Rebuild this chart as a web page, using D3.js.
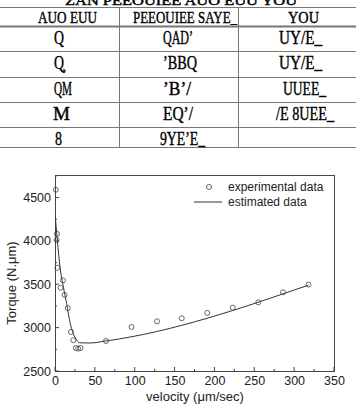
<!DOCTYPE html>
<html>
<head>
<meta charset="utf-8">
<script src="https://cdn.jsdelivr.net/npm/d3@7"></script>
<style>
  body { margin: 0; background: #fff; }
  svg { display: block; }
  .tick text { font-family: Arial, "Liberation Sans", sans-serif; }
</style>
</head>
<body>
<div id="chart"></div>
<script>
// table text (as rendered, symbol font glyphs)
const tableTitle = "ZAN PEEOUIEE AUO EUU YOU";
const tableHeader = ["AUO EUU", "PEEOUIEE SAYE_", "YOU"];
const tableCol1 = ["Q", "Q̧", "QM", "M", "8"];
const tableCol2 = ["QADʼ", "ʼBBQ", "ʼBʼ/", "EQʼ/", "9YEʼE_"];
const tableCol3 = ["UY/E_", "UY/E_", "UUEE_", "/E 8UEE_", ""];

// experimental data
const expVelocity = [1, 2.5, 2, 3, 10, 7, 12, 16, 20, 23, 26, 29, 32, 64, 96, 128, 159, 191, 223, 255, 286, 318];
const expTorque = [4590, 4080, 4010, 3690, 3545, 3460, 3377, 3225, 2950, 2855, 2765, 2758, 2765, 2846, 3008, 3073, 3108, 3170, 3230, 3292, 3408, 3496];

// estimated data
const estVelocity = [0.5, 1.3, 2.9, 6.3, 10.5, 14.6, 18.8, 23, 27.2, 31.4, 44, 63.6, 318];
const estTorque = [4260, 4180, 4007, 3700, 3469, 3277, 3060, 2931, 2854, 2825, 2823, 2846, 3490];

const xTicks = [0, 50, 100, 150, 200, 250, 300, 350];
const yTicks = [2500, 3000, 3500, 4000, 4500];

const W = 356, H = 410;
const svg = d3.select("#chart").append("svg").attr("width", W).attr("height", H);

// ---- table ----
const colX = [0, 119, 238, 356];
const rowY = [7, 26, 51, 77, 102, 127, 147];
const tbl = svg.append("g").attr("stroke", "#777").attr("stroke-width", 1);
rowY.forEach((yy, i) => {
  tbl.append("line").attr("x1", 0).attr("x2", W).attr("y1", yy + 0.5).attr("y2", yy + 0.5)
    .attr("stroke-width", i === 1 ? 2 : 1);
});
[colX[1], colX[2]].forEach(xx => {
  tbl.append("line").attr("x1", xx + 0.5).attr("x2", xx + 0.5).attr("y1", rowY[0]).attr("y2", rowY[6]);
});

function glyphText(str, x0, y0, len, size) {
  if (!str) return;
  svg.append("text")
    .attr("x", x0).attr("y", y0)
    .attr("font-family", "Liberation Serif, serif")
    .attr("font-size", size || 19)
    .attr("stroke", "#000").attr("stroke-width", 0.4)
    .attr("textLength", len)
    .attr("lengthAdjust", "spacingAndGlyphs")
    .text(str);
}
glyphText(tableTitle, 65, 5, 232, 12);
glyphText(tableHeader[0], 38, 23, 59, 17);
glyphText(tableHeader[1], 133, 23, 104, 17);
glyphText(tableHeader[2], 288, 23, 31, 17);
const c1x = [54, 54, 54, 53, 55], c1w = [10, 10, 18, 17, 7];
const c2x = [163, 163, 163, 163, 160], c2w = [30, 34, 28, 30, 45];
const c3x = [279, 279, 283, 276, 0], c3w = [43, 43, 43, 58, 0];
tableCol1.forEach((s, i) => {
  const base = rowY[i + 1] + 18;
  glyphText(s, c1x[i], base, c1w[i]);
  glyphText(tableCol2[i], c2x[i], base, c2w[i]);
  glyphText(tableCol3[i], c3x[i], base, c3w[i]);
});

// ---- plot ----
const pLeft = 55, pRight = 334, pTop = 175, pBottom = 371;
const x = d3.scaleLinear().domain([0, 350]).range([pLeft, pRight]);
const y = d3.scaleLinear().domain([2500, 4760]).range([pBottom, pTop]);

const xAxis = svg.append("g").attr("transform", `translate(0,${pBottom})`)
  .call(d3.axisBottom(x).tickValues(xTicks).tickFormat(d3.format("d")).tickSize(0).tickPadding(5));
const yAxis = svg.append("g").attr("transform", `translate(${pLeft},0)`)
  .call(d3.axisLeft(y).tickValues(yTicks).tickFormat(d3.format("d")).tickSize(0).tickPadding(4));
[xAxis, yAxis].forEach(a => {
  a.select(".domain").remove();
  a.selectAll("text").attr("font-size", 12.5).attr("fill", "#222");
});

// inward ticks
const tickG = svg.append("g").attr("stroke", "#444").attr("stroke-width", 1);
d3.range(0, 351, 25).forEach(v => {
  const len = v % 50 === 0 ? 4 : 2;
  tickG.append("line").attr("x1", x(v)).attr("x2", x(v)).attr("y1", pBottom).attr("y2", pBottom - len);
});
d3.range(2500, 4751, 250).forEach(v => {
  const len = v % 500 === 0 ? 4 : 2;
  tickG.append("line").attr("x1", pLeft).attr("x2", pLeft + len).attr("y1", y(v)).attr("y2", y(v));
});

svg.append("rect")
  .attr("x", pLeft + 0.5).attr("y", pTop + 0.5)
  .attr("width", pRight - pLeft).attr("height", pBottom - pTop)
  .attr("fill", "none").attr("stroke", "#444").attr("stroke-width", 1);

const est = estVelocity.map((v, i) => [v, estTorque[i]]);
svg.append("path")
  .datum(est)
  .attr("d", d3.line().x(d => x(d[0])).y(d => y(d[1])).curve(d3.curveMonotoneX))
  .attr("fill", "none").attr("stroke", "#333").attr("stroke-width", 1);

svg.append("g").selectAll("circle")
  .data(expVelocity.map((v, i) => [v, expTorque[i]]))
  .join("circle")
  .attr("cx", d => x(d[0])).attr("cy", d => y(d[1])).attr("r", 2.5)
  .attr("fill", "none").attr("stroke", "#444").attr("stroke-width", 0.8);

// legend
svg.append("circle").attr("cx", 209).attr("cy", 187).attr("r", 2.5)
  .attr("fill", "none").attr("stroke", "#444").attr("stroke-width", 0.8);
svg.append("line").attr("x1", 194).attr("x2", 222).attr("y1", 202).attr("y2", 202)
  .attr("stroke", "#333");
const legFont = "Arial, Liberation Sans, sans-serif";
svg.append("text").attr("x", 228).attr("y", 191).attr("font-family", legFont)
  .attr("font-size", 12).attr("fill", "#222").text("experimental data");
svg.append("text").attr("x", 228).attr("y", 206).attr("font-family", legFont)
  .attr("font-size", 12).attr("fill", "#222").text("estimated data");

// axis titles
svg.append("text").attr("x", 195).attr("y", 401).attr("text-anchor", "middle")
  .attr("font-family", legFont).attr("font-size", 13).attr("fill", "#222")
  .text("velocity (μm/sec)");
svg.append("text")
  .attr("transform", `translate(16,${(pTop + pBottom) / 2 + 10}) rotate(-90)`)
  .attr("text-anchor", "middle")
  .attr("font-family", legFont).attr("font-size", 13).attr("fill", "#222")
  .text("Torque (N.μm)");
</script>
</body>
</html>
